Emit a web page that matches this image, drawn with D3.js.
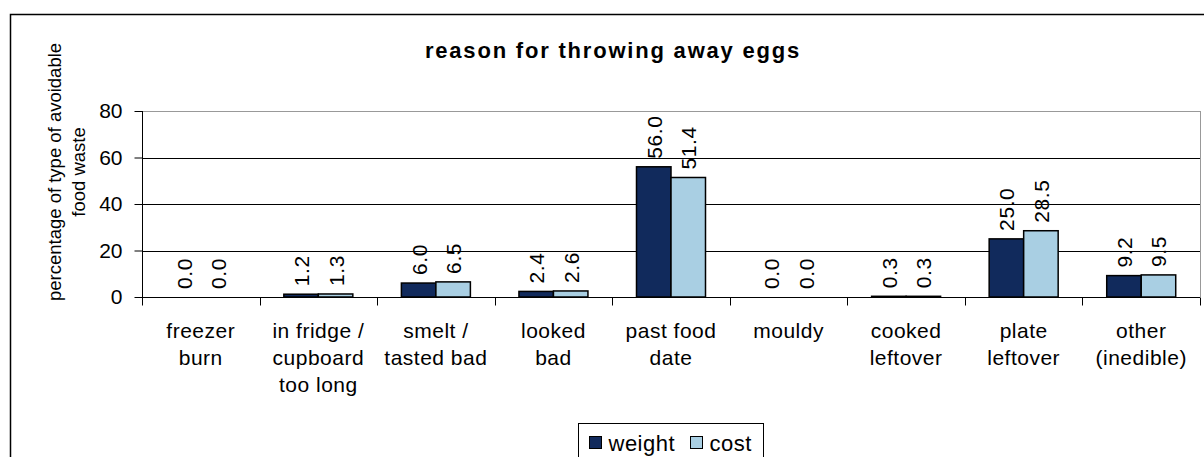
<!DOCTYPE html>
<html><head><meta charset="utf-8">
<script src="https://cdn.jsdelivr.net/npm/d3@7"></script>
<style>body{margin:0;background:#fff}svg{display:block}</style>
</head><body><svg id="c" width="1204" height="457"></svg>
<script>
const categories = [["freezer","burn"],["in fridge /","cupboard","too long"],["smelt /","tasted bad"],["looked","bad"],["past food","date"],["mouldy"],["cooked","leftover"],["plate","leftover"],["other","(inedible)"]];
const weight = [0.0,1.2,6.0,2.4,56.0,0.0,0.3,25.0,9.2];
const cost = [0.0,1.3,6.5,2.6,51.4,0.0,0.3,28.5,9.5];
const seriesNames = ["weight","cost"];
const yTicks = [0,20,40,60,80];
const colors = ["#112a5c","#a9cfe3"];

const FONT = "Liberation Sans, Arial, sans-serif";
const svg = d3.select("#c").style("font-family",FONT);
const fs = 21;
svg.append("rect").attr("x",10.5).attr("y",14.5).attr("width",1300).attr("height",500).attr("fill","none").attr("stroke","#000").attr("stroke-width",1.5);

const L=142, R=1200, T=111, B=297;
const x0 = d3.scaleBand().domain(d3.range(categories.length)).range([L,R]).paddingInner(0).paddingOuter(0);
const bw = 34.5;
const x1 = d3.scaleBand().domain([0,1]).range([-bw, bw]);
const y = d3.scaleLinear().domain([0,80]).range([B,T]);

// gridlines
svg.append("g").selectAll("line").data(yTicks.filter(d=>d>0)).join("line")
  .attr("x1",L).attr("x2",R).attr("y1",d=>Math.round(y(d))+0.5).attr("y2",d=>Math.round(y(d))+0.5)
  .attr("stroke",d=>d===80?"#999":"#000").attr("stroke-width",1);
svg.append("line").attr("x1",R+0.5).attr("x2",R+0.5).attr("y1",T).attr("y2",B).attr("stroke","#999");

// bars
const data = categories.map((c,i)=>[weight[i],cost[i]]);
const g = svg.append("g");
data.forEach((vals,i)=>{
  vals.forEach((v,s)=>{
    const cx = x0(i)+x0.bandwidth()/2 + x1(s);
    g.append("rect").attr("x",cx).attr("y",y(v)).attr("width",bw).attr("height",B-y(v))
      .attr("fill",colors[s]).attr("stroke","#000").attr("stroke-width",1.5);
    g.append("text").attr("transform",`translate(${cx+bw/2+8},${y(v)-8}) rotate(-90)`)
      .attr("font-size",fs).attr("letter-spacing",0.6).text(v.toFixed(1));
  });
});

// y axis
const ya = svg.append("g").attr("transform",`translate(${L+0.5},0)`)
  .call(d3.axisLeft(y).tickValues(yTicks).tickSize(8).tickPadding(12).tickFormat(d3.format("d")));
ya.attr("font-family",null).attr("font-size",null);
ya.select(".domain").attr("d",`M0,${T}V${B}`).attr("stroke","#000");
ya.selectAll("text").attr("font-size",fs).attr("fill","#000");
ya.selectAll(".tick line").attr("stroke","#000");

// x axis
const xa = svg.append("g").attr("transform",`translate(0,${B+0.5})`);
xa.append("line").attr("x1",L).attr("x2",R).attr("stroke","#000");
xa.selectAll("line.t").data(d3.range(categories.length+1)).join("line").attr("class","t")
  .attr("x1",i=>Math.round(L+i*x0.bandwidth())+0.5).attr("x2",i=>Math.round(L+i*x0.bandwidth())+0.5)
  .attr("y1",0).attr("y2",8).attr("stroke","#000");
categories.forEach((lines,i)=>{
  const t = svg.append("text").attr("text-anchor","middle").attr("font-size",fs).attr("letter-spacing",0.5)
    .attr("x",x0(i)+x0.bandwidth()/2).attr("y",338);
  lines.forEach((ln,k)=>t.append("tspan").attr("x",x0(i)+x0.bandwidth()/2).attr("dy",k?27:0).text(ln));
});

// title
svg.append("text").attr("x",613).attr("y",58).attr("text-anchor","middle").attr("font-size",22)
  .attr("letter-spacing",1.8).attr("font-weight","bold").text("reason for throwing away eggs");

// y label
const yl = svg.append("text").attr("transform","translate(61,172) rotate(-90)").attr("text-anchor","middle").attr("font-size",18.5);
yl.append("tspan").attr("x",0).attr("dy",0).text("percentage of type of avoidable");
yl.append("tspan").attr("x",0).attr("dy",24).text("food waste");

// legend
const lg = svg.append("g").attr("transform","translate(578.5,423.5)");
lg.append("rect").attr("width",185).attr("height",50).attr("fill","#fff").attr("stroke","#000");
const items = [[11,seriesNames[0]],[112,seriesNames[1]]];
items.forEach(([ox,name],s)=>{
  lg.append("rect").attr("x",ox).attr("y",13).attr("width",12).attr("height",12).attr("fill",colors[s]).attr("stroke","#000");
  lg.append("text").attr("x",ox+19).attr("y",27).attr("font-size",22).attr("letter-spacing",0.5).text(name);
});
</script></body></html>
